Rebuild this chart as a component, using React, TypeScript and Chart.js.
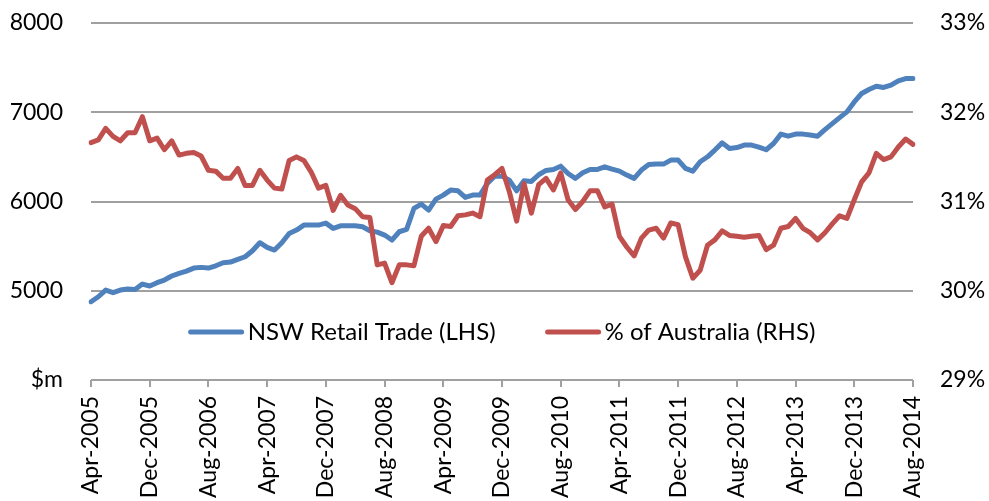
import React, { useEffect, useRef } from 'react';
import { Chart, registerables } from 'chart.js';

Chart.register(...registerables);

const MONTH_NAMES = ['Jan', 'Feb', 'Mar', 'Apr', 'May', 'Jun', 'Jul', 'Aug', 'Sep', 'Oct', 'Nov', 'Dec'];

// NSW Retail Trade ($m), monthly Apr-2005 .. Aug-2014
const nswRetail = [
  4877, 4933, 5008, 4978, 5008, 5019, 5015, 5075, 5053, 5090,
  5120, 5165, 5195, 5220, 5254, 5262, 5254, 5280, 5314, 5321,
  5351, 5381, 5448, 5538, 5486, 5456, 5538, 5642, 5680, 5736,
  5736, 5736, 5758, 5699, 5728, 5728, 5728, 5717, 5672, 5657,
  5624, 5568, 5661, 5687, 5922, 5971, 5904, 6027, 6072, 6128,
  6120, 6046, 6072, 6072, 6203, 6284, 6284, 6240, 6120, 6232,
  6225, 6300, 6348, 6359, 6396, 6314, 6259, 6322, 6359, 6359,
  6389, 6363, 6340, 6296, 6259, 6352, 6415, 6419, 6419, 6464,
  6464, 6371, 6340, 6445, 6501, 6576, 6657, 6594, 6605, 6632,
  6632, 6610, 6580, 6650, 6755, 6732, 6755, 6755, 6744, 6732,
  6806, 6873, 6940, 7004, 7116, 7210, 7255, 7292, 7278, 7303,
  7352, 7378, 7378,
];

// NSW share of Australia (%)
const pctOfAustralia = [
  31.66, 31.69, 31.82, 31.73, 31.68, 31.77, 31.77, 31.95, 31.68, 31.71,
  31.58, 31.68, 31.52, 31.54, 31.55, 31.51, 31.35, 31.34, 31.26, 31.26,
  31.37, 31.18, 31.18, 31.35, 31.24, 31.15, 31.14, 31.46, 31.50, 31.46,
  31.33, 31.15, 31.18, 30.90, 31.07, 30.96, 30.92, 30.83, 30.82, 30.29,
  30.31, 30.09, 30.29, 30.29, 30.28, 30.61, 30.70, 30.55, 30.73, 30.72,
  30.84, 30.85, 30.87, 30.83, 31.24, 31.30, 31.37, 31.11, 30.78, 31.20,
  30.87, 31.19, 31.26, 31.13, 31.32, 31.02, 30.91, 31.00, 31.12, 31.12,
  30.94, 30.97, 30.61, 30.49, 30.39, 30.59, 30.68, 30.70, 30.59, 30.76,
  30.74, 30.38, 30.14, 30.23, 30.51, 30.57, 30.67, 30.62, 30.61, 30.60,
  30.61, 30.62, 30.46, 30.51, 30.70, 30.72, 30.81, 30.70, 30.65, 30.57,
  30.65, 30.75, 30.84, 30.81, 31.02, 31.22, 31.32, 31.54, 31.47, 31.50,
  31.61, 31.70, 31.64,
];

const START_YEAR = 2005;
const START_MONTH = 3; // April
const categories: string[] = nswRetail.map((_, i) => {
  const m = START_MONTH + i;
  return `${MONTH_NAMES[m % 12]}-${START_YEAR + Math.floor(m / 12)}`;
});

const TICK_EVERY = 8;
const leftTicks = [4000, 5000, 6000, 7000, 8000];
const leftUnitLabel = '$m';
const rightTicks = [29, 30, 31, 32, 33];

const seriesNames = ['NSW Retail Trade (LHS)', '% of Australia (RHS)'];
const BLUE = '#4F81BD';
const RED = '#C0504D';
const GRID = '#a0a0a0';
const FONT = 'Lato, Calibri, Carlito, sans-serif';
const FONT_SIZE = 23;
const LEGEND_FONT_SIZE = 24;

const inPlotLegend = {
  id: 'inPlotLegend',
  afterDatasetsDraw(chart: any) {
    const { ctx, chartArea } = chart;
    const sample = 55;
    const gapText = 4;
    const gapItem = 50;
    ctx.save();
    ctx.font = `${LEGEND_FONT_SIZE}px ${FONT}`;
    const items = chart.data.datasets.map((ds: any) => ({
      label: ds.label,
      color: ds.borderColor,
      w: ctx.measureText(ds.label).width,
    }));
    const total = items.reduce((s: number, it: any) => s + sample + gapText + it.w, 0) + gapItem * (items.length - 1);
    let x = (chartArea.left + chartArea.right) / 2 - total / 2;
    const y = chartArea.bottom - 48;
    for (const it of items) {
      ctx.strokeStyle = it.color;
      ctx.lineWidth = 5;
      ctx.lineCap = 'round';
      ctx.beginPath();
      ctx.moveTo(x + 2, y);
      ctx.lineTo(x + sample - 2, y);
      ctx.stroke();
      ctx.fillStyle = '#000';
      ctx.textAlign = 'left';
      ctx.textBaseline = 'middle';
      ctx.fillText(it.label, x + sample + gapText, y);
      x += sample + gapText + it.w + gapItem;
    }
    ctx.restore();
  },
};

const noVerticalPadding = (axis: any) => {
  axis.paddingTop = 0;
  axis.paddingBottom = 0;
};

export default function App() {
  const ref = useRef<HTMLCanvasElement>(null);

  useEffect(() => {
    if (!ref.current) return;
    const chart = new Chart(ref.current, {
      type: 'line',
      data: {
        labels: categories,
        datasets: [
          {
            label: seriesNames[0],
            data: nswRetail,
            borderColor: BLUE,
            backgroundColor: BLUE,
            borderWidth: 5,
            pointRadius: 0,
            tension: 0,
            borderJoinStyle: 'round',
            borderCapStyle: 'round',
            yAxisID: 'y',
            order: 1,
          },
          {
            label: seriesNames[1],
            data: pctOfAustralia,
            borderColor: RED,
            backgroundColor: RED,
            borderWidth: 5,
            pointRadius: 0,
            tension: 0,
            borderJoinStyle: 'round',
            borderCapStyle: 'round',
            yAxisID: 'y1',
            order: 0,
          },
        ],
      },
      options: {
        animation: false,
        responsive: false,
        devicePixelRatio: 1,
        layout: { padding: { top: 23, left: 0, right: 0, bottom: 0 } },
        plugins: {
          legend: { display: false },
          tooltip: { enabled: false },
        },
        font: { family: FONT, size: FONT_SIZE },
        scales: {
          x: {
            type: 'category',
            offset: false,
            grid: {
              drawOnChartArea: false,
              drawTicks: true,
              tickLength: 7,
              color: GRID,
              lineWidth: 2,
            },
            border: { display: false },
            ticks: {
              autoSkip: false,
              maxRotation: 90,
              minRotation: 90,
              padding: 9,
              color: '#000',
              font: { family: FONT, size: FONT_SIZE },
            },
            afterBuildTicks: (axis: any) => {
              axis.ticks = axis.ticks.filter((t: any) => t.value % TICK_EVERY === 0);
            },
            afterFit: (axis: any) => {
              axis.height = 121;
            },
          },
          y: {
            position: 'left',
            min: leftTicks[0],
            max: leftTicks[leftTicks.length - 1],
            afterBuildTicks: (axis: any) => {
              axis.ticks = leftTicks.map((v) => ({ value: v }));
            },
            grid: { color: GRID, lineWidth: 2, drawTicks: false },
            border: { display: false },
            ticks: {
              padding: 28,
              color: '#000',
              font: { family: FONT, size: FONT_SIZE },
              callback: (v: any) => (v === leftTicks[0] ? leftUnitLabel : String(v)),
            },
            afterFit: (axis: any) => {
              axis.width = 91;
              noVerticalPadding(axis);
            },
          },
          y1: {
            position: 'right',
            min: rightTicks[0],
            max: rightTicks[rightTicks.length - 1],
            afterBuildTicks: (axis: any) => {
              axis.ticks = rightTicks.map((v) => ({ value: v }));
            },
            grid: { drawOnChartArea: false, drawTicks: false },
            border: { display: false },
            ticks: {
              padding: 27,
              color: '#000',
              font: { family: FONT, size: FONT_SIZE },
              callback: (v: any) => `${v}%`,
            },
            afterFit: (axis: any) => {
              axis.width = 76;
              noVerticalPadding(axis);
            },
          },
        },
      },
      plugins: [inPlotLegend],
    });
    return () => chart.destroy();
  }, []);

  return (
    <div style={{ position: 'absolute', left: 0, top: 0, width: 989, height: 501, background: '#fff' }}>
      <canvas ref={ref} width={989} height={501} style={{ display: 'block' }} />
    </div>
  );
}
